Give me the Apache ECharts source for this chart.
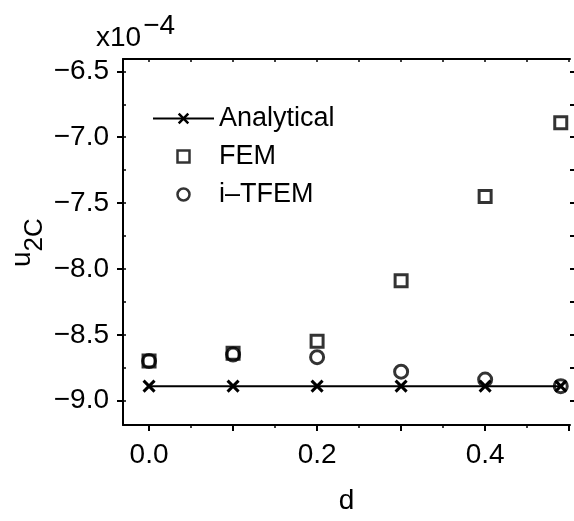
<!DOCTYPE html>
<html>
<head>
<meta charset="utf-8">
<script src="https://cdn.jsdelivr.net/npm/echarts@6/dist/echarts.min.js"></script>
<style>
  html, body { margin: 0; padding: 0; background: #fff; }
  #chart { width: 574px; height: 521px; }
</style>
</head>
<body>
<div id="chart"></div>
<script>
// Displacement u_2C (in units of 1e-4) against d
const dValues = [0.0, 0.1, 0.2, 0.3, 0.4, 0.49];
const analytical = [-8.89, -8.89, -8.89, -8.89, -8.89, -8.89];
const fem = [-8.70, -8.64, -8.55, -8.09, -7.45, -6.89];
const itfem = [-8.70, -8.65, -8.67, -8.78, -8.84, -8.89];

const xLabelTicks = [0.0, 0.2, 0.4];
const xMajorTicks = [0.0, 0.1, 0.2, 0.3, 0.4, 0.5];
const xMinorTicks = [0.05, 0.15, 0.25, 0.35, 0.45];
const yLabelTicks = [-9.0, -8.5, -8.0, -7.5, -7.0, -6.5];
const yMinorTicks = [-9.0, -8.75, -8.5, -8.25, -8.0, -7.75, -7.5, -7.25, -7.0, -6.75, -6.5];

const X_MIN = -0.031, X_MAX = 0.501;
const Y_MIN = -9.185, Y_MAX = -6.406;

const FONT = '"Liberation Sans", Arial, sans-serif';
const INK = '#000';

const pair = (xs, ys) => xs.map((x, i) => [x, ys[i]]);
const fmt = v => v.toFixed(1).replace('-', '\u2212');

const chart = echarts.init(document.getElementById('chart'), null, { renderer: 'canvas' });

const crossPath = 'path://M0,0L10,10M10,0L0,10';
const squarePath = 'path://M0,0L10,0L10,10L0,10Z';

chart.setOption({
  animation: false,
  backgroundColor: '#fff',
  grid: { left: 123, top: 59, right: 4, bottom: 96, containLabel: false },
  xAxis: [
    {
      type: 'value', position: 'bottom', min: X_MIN, max: X_MAX,
      name: 'd', nameLocation: 'middle', nameGap: 62,
      nameTextStyle: { fontFamily: FONT, fontSize: 28, color: INK },
      axisLine: { show: true, onZero: false, lineStyle: { color: INK, width: 2 } },
      axisTick: { show: true, inside: false, length: 6, customValues: xMajorTicks, lineStyle: { color: INK, width: 2 } },
      axisLabel: { show: true, customValues: xLabelTicks, formatter: fmt, fontFamily: FONT, fontSize: 28, color: INK, margin: 16 },
      splitLine: { show: false }
    },
    {
      type: 'value', position: 'bottom', min: X_MIN, max: X_MAX,
      axisLine: { show: false, onZero: false },
      axisTick: { show: true, inside: false, length: 3, customValues: xMinorTicks, lineStyle: { color: INK, width: 1.5 } },
      axisLabel: { show: false },
      splitLine: { show: false }
    },
    {
      type: 'value', position: 'top', min: X_MIN, max: X_MAX,
      axisLine: { show: true, onZero: false, lineStyle: { color: INK, width: 2 } },
      axisTick: { show: true, inside: true, length: 3, customValues: xMajorTicks.concat(xMinorTicks), lineStyle: { color: INK, width: 1.5 } },
      axisLabel: { show: false },
      splitLine: { show: false }
    }
  ],
  yAxis: [
    {
      type: 'value', position: 'left', min: Y_MIN, max: Y_MAX,
      axisLine: { show: true, onZero: false, lineStyle: { color: INK, width: 2 } },
      axisTick: { show: true, inside: false, length: 6, customValues: yLabelTicks, lineStyle: { color: INK, width: 2 } },
      axisLabel: { show: true, customValues: yLabelTicks, formatter: fmt, fontFamily: FONT, fontSize: 28, color: INK, margin: 14 },
      splitLine: { show: false }
    },
    {
      type: 'value', position: 'left', min: Y_MIN, max: Y_MAX,
      axisLine: { show: false, onZero: false },
      axisTick: { show: true, inside: true, length: 3, customValues: yMinorTicks, lineStyle: { color: INK, width: 1.5 } },
      axisLabel: { show: false },
      splitLine: { show: false }
    },
    {
      type: 'value', position: 'right', min: Y_MIN, max: Y_MAX,
      axisLine: { show: false, onZero: false },
      axisTick: { show: true, inside: false, length: 4, customValues: yMinorTicks, lineStyle: { color: INK, width: 2 } },
      axisLabel: { show: false },
      splitLine: { show: false }
    }
  ],
  legend: {
    left: 147, top: 100, orient: 'vertical',
    itemWidth: 61, itemHeight: 12, itemGap: 11,
    symbolKeepAspect: true,
    itemStyle: { color: 'none', borderColor: INK, borderWidth: 2.5 },
    lineStyle: { color: INK, width: 2 },
    textStyle: { fontFamily: FONT, fontSize: 27, color: INK },
    data: ['Analytical', 'FEM', 'i\u2013TFEM']
  },
  graphic: [
    {
      type: 'text', left: 96, top: 12,
      style: {
        text: '{b|x10}{s|\u22124}',
        rich: {
          b: { fontFamily: FONT, fontSize: 28, fill: INK, lineHeight: 40, verticalAlign: 'bottom' },
          s: { fontFamily: FONT, fontSize: 28, fill: INK, lineHeight: 40, verticalAlign: 'top', padding: [0, 0, 12, 2] }
        }
      }
    },
    {
      type: 'text', x: 8, y: 267, rotation: Math.PI / 2,
      style: {
        text: '{u|u}{s|2C}',
        rich: {
          u: { fontFamily: FONT, fontSize: 28, fill: INK, lineHeight: 40, verticalAlign: 'top' },
          s: { fontFamily: FONT, fontSize: 26, fill: INK, lineHeight: 40, verticalAlign: 'bottom', padding: [12, 0, 0, 0] }
        }
      }
    }
  ],
  series: [
    {
      name: 'Analytical', type: 'line', data: pair(dValues, analytical),
      symbol: crossPath, symbolSize: 11, showAllSymbol: true,
      lineStyle: { color: INK, width: 2 },
      itemStyle: { color: 'none', borderColor: INK, borderWidth: 3 },
      z: 3
    },
    {
      name: 'FEM', type: 'scatter', data: pair(dValues, fem),
      symbol: squarePath, symbolSize: 12, symbolKeepAspect: true,
      itemStyle: { color: 'none', borderColor: INK, borderWidth: 3 },
      z: 4
    },
    {
      name: 'i\u2013TFEM', type: 'scatter', data: pair(dValues, itfem),
      symbol: 'circle', symbolSize: 13,
      itemStyle: { color: 'none', borderColor: INK, borderWidth: 3 },
      z: 4
    }
  ]
});
</script>
</body>
</html>
